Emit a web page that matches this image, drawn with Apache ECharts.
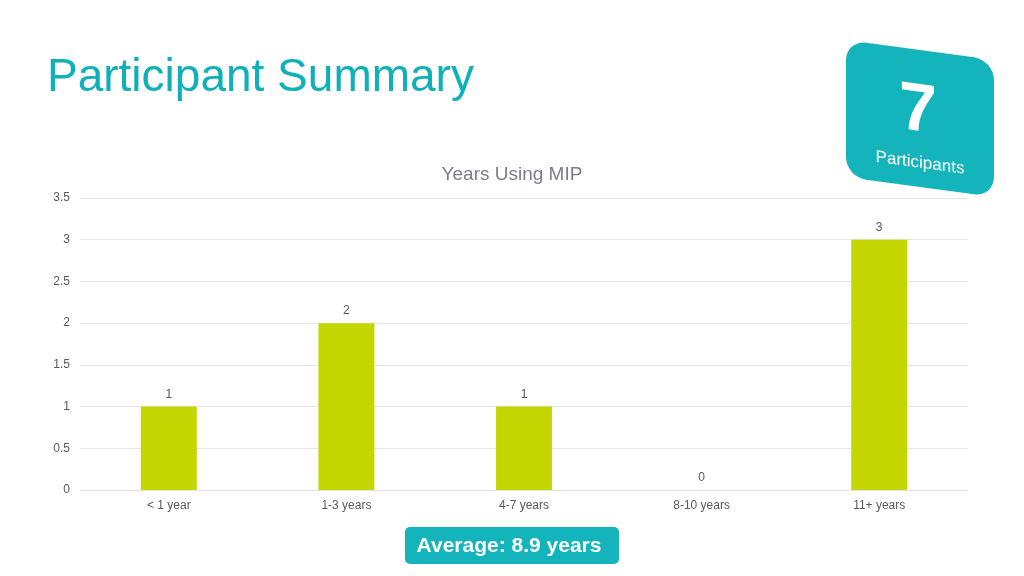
<!DOCTYPE html>
<html>
<head>
<meta charset="utf-8">
<script src="https://cdn.jsdelivr.net/npm/echarts@6/dist/echarts.min.js"></script>
<style>
html, body { margin: 0; padding: 0; background: #fff; }
#main { width: 1024px; height: 576px; }
</style>
</head>
<body>
<div id="main"></div>
<script>
var categories = ['< 1 year', '1-3 years', '4-7 years', '8-10 years', '11+ years'];
var counts = [1, 2, 1, 0, 3];
var participants = 7;
var averageText = 'Average: 8.9 years';

var teal = '#14b4bd';
var font = 'Liberation Sans, Arial, sans-serif';

var options = {
    backgroundColor: '#fff',
    textStyle: { fontFamily: font },
    title: {
        text: 'Years Using MIP',
        left: 'center',
        top: 160,
        textStyle: { color: '#7a7f87', fontSize: 19, fontWeight: 'normal', fontFamily: font }
    },
    grid: { left: 80, right: 56, top: 198, bottom: 86 },
    xAxis: {
        type: 'category',
        data: categories,
        axisLine: { show: true, lineStyle: { color: '#e3e3e3' } },
        axisTick: { show: false },
        axisLabel: { color: '#595959', fontSize: 12, margin: 10, fontFamily: font }
    },
    yAxis: {
        type: 'value',
        min: 0,
        max: 3.5,
        interval: 0.5,
        axisLine: { show: false },
        axisTick: { show: false },
        axisLabel: { color: '#595959', fontSize: 12, margin: 10, fontFamily: font },
        splitLine: { lineStyle: { color: '#e6e6e6' } }
    },
    series: [{
        type: 'bar',
        data: counts,
        barWidth: '31.5%',
        itemStyle: { color: '#c4d600' },
        label: { show: true, position: 'top', color: '#595959', fontSize: 12, distance: 6, fontFamily: font }
    }],
    graphic: [
        {
            type: 'text',
            left: 47,
            top: 55,
            style: { text: 'Participant Summary', fill: '#0fb0ba', font: '46px ' + font }
        },
        {
            type: 'group',
            x: 920,
            y: 119,
            skewY: -0.135,
            children: [
                {
                    type: 'rect',
                    shape: { x: -74, y: -69, width: 148, height: 137, r: 20 },
                    style: { fill: teal },
                    z: 10
                },
                {
                    type: 'text',
                    style: { text: String(participants), x: -2, y: -7, fill: '#fff', font: 'bold 68px ' + font, align: 'center', verticalAlign: 'middle' },
                    z: 11
                },
                {
                    type: 'text',
                    style: { text: 'Participants', x: 0, y: 44, fill: '#fff', font: '17px ' + font, align: 'center', verticalAlign: 'middle' },
                    z: 11
                }
            ]
        },
        {
            type: 'rect',
            shape: { x: 405, y: 527, width: 214, height: 37, r: 5 },
            style: { fill: teal },
            z: 10
        },
        {
            type: 'text',
            style: { text: averageText, x: 509, y: 546, fill: '#fff', font: 'bold 21px ' + font, align: 'center', verticalAlign: 'middle' },
            z: 11
        }
    ]
};

var chart = echarts.init(document.getElementById('main'));
chart.setOption(options);
</script>
</body>
</html>
